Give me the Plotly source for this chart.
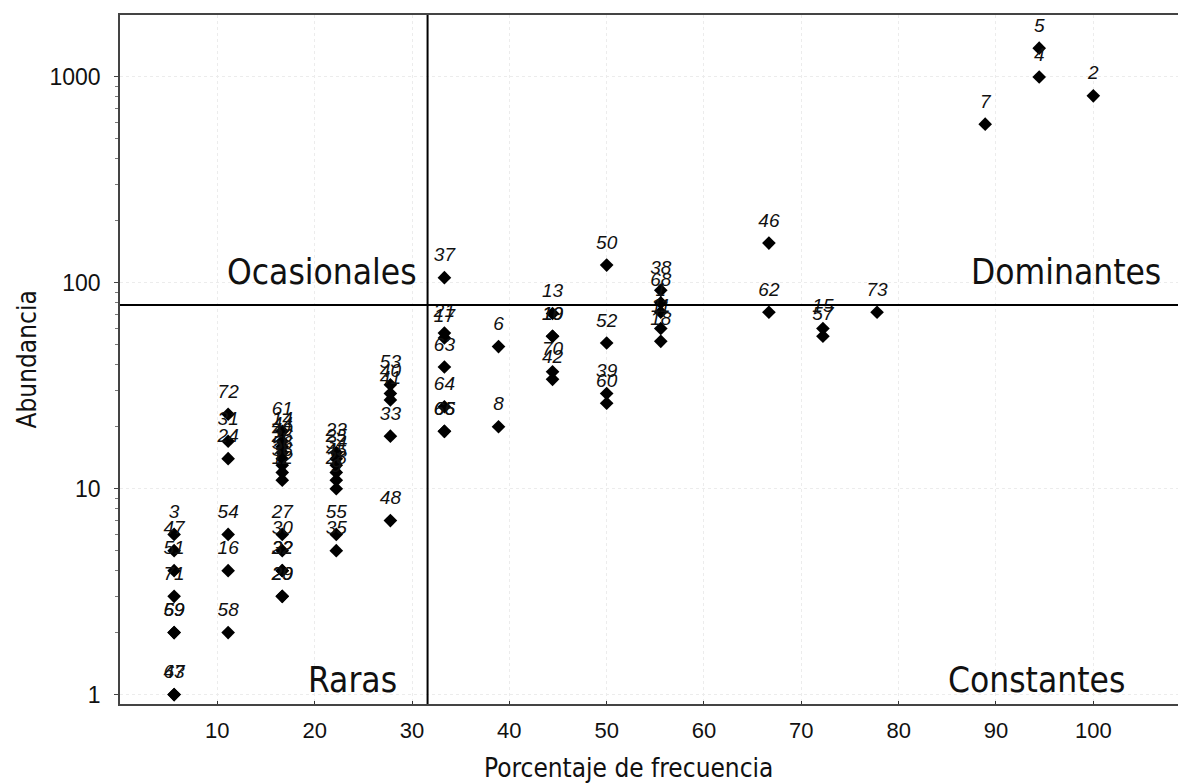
import math
import plotly.graph_objects as go

# ---- data (species number, frequency %, abundance) ----
species = ["3", "47", "51", "71", "59", "69", "67", "43",
           "72", "31", "24", "54", "16", "58",
           "61", "14", "44", "49", "26", "56", "36", "12", "27", "30", "32", "22", "29", "20",
           "23", "25", "34", "45", "28", "9", "55", "35",
           "53", "40", "41", "33", "48",
           "37", "21", "17", "63", "64", "65", "66",
           "6", "8",
           "13", "19", "10", "70", "42",
           "50", "52", "39", "60",
           "38", "68", "1", "11", "18",
           "46", "62",
           "15", "57",
           "73",
           "7",
           "5", "4",
           "2"]
frequency = [5.56] * 8 + [11.11] * 6 + [16.67] * 14 + [22.22] * 8 + [27.78] * 5 + \
            [33.33] * 7 + [38.89] * 2 + [44.44] * 5 + [50.0] * 4 + [55.56] * 5 + \
            [66.67] * 2 + [72.22] * 2 + [77.78] + [88.89] + [94.44] * 2 + [100.0]
abundance = [6, 5, 4, 3, 2, 2, 1, 1,
             23, 17, 14, 6, 4, 2,
             19, 17, 16, 15, 14, 13, 12, 11, 6, 5, 4, 4, 3, 3,
             15, 14, 13, 12, 11, 10, 6, 5,
             32, 29, 27, 18, 7,
             106, 57, 54, 39, 25, 19, 19,
             49, 20,
             71, 55, 55, 37, 34,
             122, 51, 29, 26,
             92, 80, 72, 60, 52,
             156, 72,
             60, 55,
             72,
             590,
             1380, 1000,
             810]

freq_threshold = 31.6
abund_threshold = 78
x_ticks = [10, 20, 30, 40, 50, 60, 70, 80, 90, 100]
y_ticks = [1, 10, 100, 1000]
y_minor = [m * d for d in (1, 10, 100) for m in range(2, 10)]
quadrants = ["Ocasionales", "Dominantes", "Raras", "Constantes"]

X_MAX = 108.7
Y_MIN, Y_MAX = 0.9, 2000

narrow = "Liberation Sans Narrow, Arial Narrow, DejaVu Sans Condensed, Liberation Sans, Arial, sans-serif"
regular = "Liberation Sans, Arial, sans-serif"

fig = go.Figure()
# diamonds
fig.add_trace(go.Scatter(
    x=frequency, y=abundance, mode="markers",
    marker=dict(symbol="diamond", size=10.5, color="black"),
    cliponaxis=False, showlegend=False, hoverinfo="skip",
))
# species labels (placed above each diamond)
fig.add_trace(go.Scatter(
    x=frequency, y=abundance, text=species, mode="markers+text",
    marker=dict(symbol="diamond", size=17, color="rgba(0,0,0,0)"),
    textposition="top center",
    textfont=dict(family=regular, size=19, color="#111111", style="italic"),
    cliponaxis=False, showlegend=False,
))

# quadrant dividing lines
fig.add_shape(type="line", xref="x", yref="paper", x0=freq_threshold, x1=freq_threshold,
              y0=0, y1=1, line=dict(color="black", width=2))
fig.add_shape(type="line", xref="paper", yref="y", x0=0, x1=1,
              y0=abund_threshold, y1=abund_threshold, line=dict(color="black", width=2))

qfont = dict(family=narrow, size=35, color="#111111")
ly = math.log10(abund_threshold)
fig.add_annotation(x=freq_threshold, y=ly, xref="x", yref="y", text=quadrants[0],
                   showarrow=False, xanchor="right", yanchor="middle", xshift=-9, yshift=33, font=qfont)
fig.add_annotation(x=1, y=ly, xref="paper", yref="y", text=quadrants[1],
                   showarrow=False, xanchor="right", yanchor="middle", xshift=-15, yshift=33, font=qfont)
fig.add_annotation(x=freq_threshold, y=0, xref="x", yref="paper", text=quadrants[2],
                   showarrow=False, xanchor="right", yanchor="middle", xshift=-29, yshift=24, font=qfont)
fig.add_annotation(x=1, y=0, xref="paper", yref="paper", text=quadrants[3],
                   showarrow=False, xanchor="right", yanchor="middle", xshift=-51, yshift=24, font=qfont)

# axis titles
tfont = dict(family=narrow, size=26, color="#111111")
fig.add_annotation(x=(628 - 120) / 1058, y=-(768 - 704) / 689, xref="paper", yref="paper",
                   text="Porcentaje de frecuencia", showarrow=False,
                   xanchor="center", yanchor="middle", font=tfont)
fig.add_annotation(x=-(120 - 26) / 1058, y=0.5, xref="paper", yref="paper",
                   text="Abundancia", showarrow=False, textangle=-90,
                   xanchor="center", yanchor="middle", font=tfont)

fig.update_xaxes(
    range=[0, X_MAX], tickvals=x_ticks, ticks="inside", ticklen=3, tickcolor="#333",
    showline=True, linecolor="#444", linewidth=1.5, mirror=True,
    showgrid=True, gridcolor="#ececec", griddash="dot", zeroline=False,
    tickfont=dict(family=regular, size=22, color="#111"), ticklabelstandoff=6,
    automargin=False,
)
fig.update_yaxes(
    type="log", range=[math.log10(Y_MIN), math.log10(Y_MAX)],
    tickvals=y_ticks, ticktext=[str(v) for v in y_ticks], ticks="outside", ticklen=4, tickcolor="#444",
    minor=dict(tickvals=y_minor, ticks="outside", ticklen=3, tickcolor="#777", showgrid=False),
    showline=True, linecolor="#444", linewidth=1.5, mirror=False,
    showgrid=True, gridcolor="#ececec", griddash="dot", zeroline=False,
    tickfont=dict(family=regular, size=23, color="#111"), ticklabelstandoff=9,
    automargin=False,
)
fig.update_layout(
    width=1178, height=784,
    margin=dict(l=120, r=0, t=15, b=80),
    plot_bgcolor="white", paper_bgcolor="white",
)
fig.write_html("out.html", config={"displayModeBar": False},
               post_script="document.body.style.margin='0px';")
